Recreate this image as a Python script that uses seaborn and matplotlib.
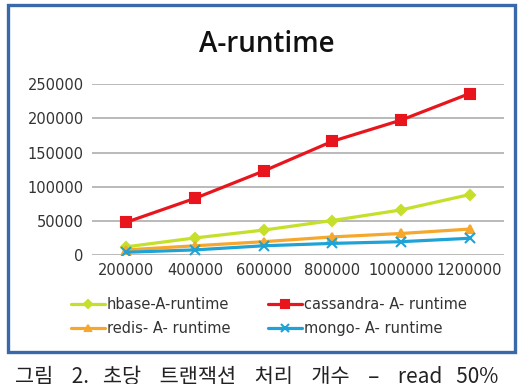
import matplotlib
matplotlib.use("Agg")
import matplotlib.pyplot as plt
import seaborn as sns
import pandas as pd
from matplotlib.patches import Rectangle

sns.set_theme(style="white")
plt.rcParams['font.family'] = ['DejaVu Sans', 'Noto Sans CJK KR']

categories = ["200000", "400000", "600000", "800000", "1000000", "1200000"]
hbase = [12000, 25000, 36500, 50500, 66000, 88500]
cassandra = [48000, 83000, 123000, 166500, 197500, 236500]
redis = [7500, 13500, 19500, 26500, 31500, 38000]
mongo = [4000, 7500, 13500, 17000, 19500, 24500]

series_names = ["hbase-A-runtime", "cassandra- A- runtime", "redis- A- runtime", "mongo- A- runtime"]
series_vals = [hbase, cassandra, redis, mongo]
colors = ["#c6df2a", "#e8161c", "#f5a82c", "#1fa3d6"]
markers = ["D", "s", "^", "x"]
msizes = [5, 7.5, 6, 6.5]

W, H = 523, 384
fig = plt.figure(figsize=(W / 100, H / 100), dpi=100)
fig.patch.set_facecolor("white")

ax = fig.add_axes([92 / W, 1 - 255 / H, (504 - 92) / W, (255 - 84.3) / H])
ax.set_facecolor("white")

for name, vals, c, m, ms in zip(series_names, series_vals, colors, markers, msizes):
    df = pd.DataFrame({"x": categories, "y": vals})
    sns.lineplot(data=df, x="x", y="y", ax=ax, color=c, marker=m, markersize=ms,
                 linewidth=2.3, markeredgecolor=c, markeredgewidth=1.5, sort=False,
                 label=name, legend=False)

ax.set_xlim(-0.5, len(categories) - 0.5)
ax.set_ylim(0, 250000)
ax.set_yticks([0, 50000, 100000, 150000, 200000, 250000])
ax.set_yticklabels(["0", "50000", "100000", "150000", "200000", "250000"])
ax.yaxis.grid(True, color="#b4b4b4", linewidth=1.3)
ax.xaxis.grid(False)
ax.set_axisbelow(True)
for s in ax.spines.values():
    s.set_visible(False)
ax.tick_params(axis="both", length=0, labelsize=10.5, colors="#333333", pad=6)
ax.set_xlabel("")
ax.set_ylabel("")

fig.text(267 / W, 1 - 44 / H, "A-runtime", fontsize=20, color="#111111",
         ha="center", va="center", weight="semibold",
         family=["Open Sans", "DejaVu Sans"])

lines = ax.get_lines()[:4]
order = [0, 2, 1, 3]
leg = fig.legend([lines[i] for i in order], [series_names[i] for i in order],
                 ncol=2, loc="upper left",
                 bbox_to_anchor=(58 / W, 1 - 284 / H), frameon=False,
                 fontsize=10.5, handlelength=2.3, handletextpad=0.15,
                 columnspacing=2.6, labelspacing=0.6, markerscale=0.8)
for t in leg.get_texts():
    t.set_color("#333333")

frame = Rectangle((8 / W, 1 - 352 / H), (515 - 8) / W, (352 - 5) / H,
                  transform=fig.transFigure, fill=False, edgecolor="#3a69ab",
                  linewidth=2.4, zorder=10)
fig.patches.append(frame)

fig.text(15 / W, 1 - 366 / H, "그림    2.   초당    트랜잭션    처리    개수    –    read   50%",
         fontsize=15, va="top", ha="left", color="#222222",
         family=["Noto Sans CJK KR", "DejaVu Sans"])

fig.savefig("out.png", dpi=100)
